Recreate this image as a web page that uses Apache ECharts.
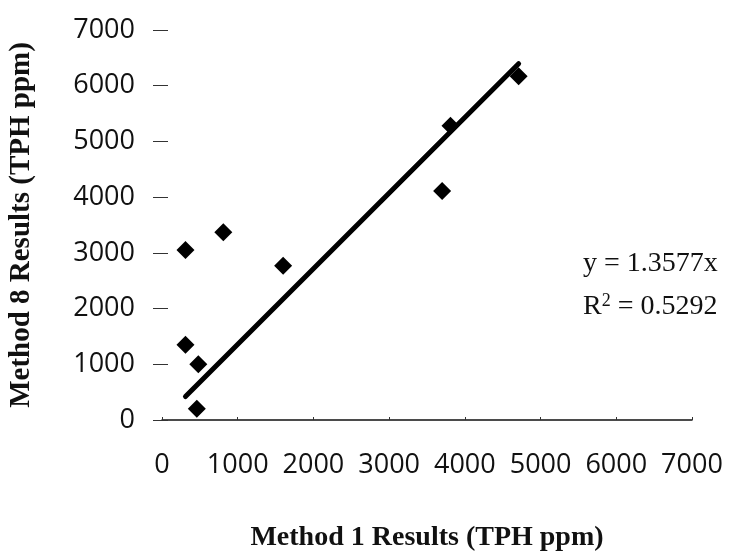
<!DOCTYPE html>
<html>
<head>
<meta charset="utf-8">
<script src="https://cdn.jsdelivr.net/npm/echarts@6/dist/echarts.min.js"></script>
<style>
  html, body { margin: 0; padding: 0; background: #ffffff; }
  #chart { width: 729px; height: 556px; }
</style>
</head>
<body>
<div id="chart"></div>
<script>
// Paired TPH results (ppm): Method 1 on x, Method 8 on y
const method1 = [310, 810, 1600, 3700, 3810, 4710, 310, 480, 460];
const method8 = [3050, 3370, 2770, 4110, 5280, 6170, 1350, 1000, 200];

// Linear trendline through the origin and its fit statistic
const slope = 1.3577;
const rSquared = 0.5292;

// Axis scale (same for both axes)
const axisMin = 0;
const axisMax = 7000;
const axisStep = 1000;

const points = method1.map((x, i) => [x, method8[i]]);
const xLo = Math.min(...method1);
const xHi = Math.max(...method1);
const trend = [[xLo, slope * xLo], [xHi, slope * xHi]];

const serif = '"Liberation Serif", "Times New Roman", serif';
const sans = '"Open Sans", "Noto Sans", sans-serif';
const ink = '#111111';
const plain = (v) => String(v);

const chart = echarts.init(document.getElementById('chart'), null, { renderer: 'canvas' });

chart.setOption({
  backgroundColor: '#ffffff',
  animation: false,
  grid: { left: 162, right: 37, top: 30, bottom: 136, outerBoundsMode: 'none' },
  xAxis: {
    type: 'value',
    min: axisMin, max: axisMax, interval: axisStep,
    name: 'Method 1 Results (TPH ppm)',
    nameLocation: 'middle',
    nameGap: 104,
    nameTextStyle: { fontFamily: serif, fontWeight: 'bold', fontSize: 28, color: ink },
    axisLine: { show: true, onZero: false, lineStyle: { color: ink, width: 1.5 } },
    axisTick: { show: true, inside: true, length: 3, lineStyle: { color: '#333', width: 1 } },
    axisLabel: { margin: 32, fontFamily: sans, fontSize: 27, color: ink, formatter: plain },
    splitLine: { show: false }
  },
  yAxis: [
    {
      type: 'value',
      position: 'left',
      min: axisMin, max: axisMax, interval: axisStep,
      name: 'Method 8 Results (TPH ppm)',
      nameLocation: 'middle',
      nameGap: 126,
      nameTextStyle: { fontFamily: serif, fontWeight: 'bold', fontSize: 29, color: ink },
      axisLine: { show: false },
      axisTick: { show: true, inside: false, length: 9, lineStyle: { color: '#333', width: 1 } },
      axisLabel: { margin: 27, fontFamily: sans, fontSize: 27, color: ink, formatter: plain },
      splitLine: { show: false }
    },
    {
      type: 'value',
      position: 'left',
      offset: 0,
      min: axisMin, max: axisMax, interval: axisStep,
      axisLine: { show: false },
      axisTick: { show: true, inside: true, length: 6, lineStyle: { color: '#333', width: 1 } },
      axisLabel: { show: false },
      splitLine: { show: false }
    }
  ],
  series: [
    {
      type: 'line',
      data: trend,
      symbol: 'none',
      lineStyle: { color: '#000', width: 5, cap: 'round' },
      z: 2
    },
    {
      type: 'scatter',
      data: points,
      symbol: 'diamond',
      symbolSize: 18,
      itemStyle: { color: '#000', opacity: 1 },
      z: 3
    }
  ],
  graphic: [
    {
      type: 'text',
      left: 583,
      top: 250,
      style: {
        text: `{n|y = ${slope}x}\n{n|R}{sup|2}{n| = ${rSquared}}`,
        rich: {
          n: { fontFamily: serif, fontSize: 28, fill: ink, lineHeight: 43 },
          sup: { fontFamily: serif, fontSize: 18, fill: ink, lineHeight: 22, verticalAlign: 'top', padding: [7, 0, 0, 0] }
        }
      }
    }
  ]
});
</script>
</body>
</html>
